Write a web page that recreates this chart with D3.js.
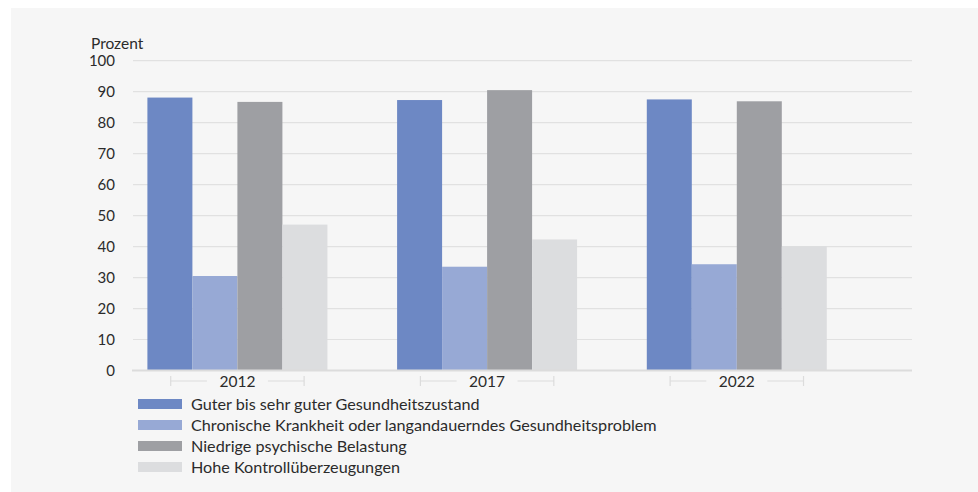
<!DOCTYPE html>
<html><head><meta charset="utf-8">
<script src="https://cdn.jsdelivr.net/npm/d3@7"></script>
<style>
html,body{margin:0;padding:0;background:#fff;}
svg{display:block;font-family:Lato,"Open Sans",sans-serif;}
</style></head>
<body>
<svg id="chart" width="978" height="492"></svg>
<script>
const years = ["2012", "2017", "2022"];
const seriesNames = [
  "Guter bis sehr guter Gesundheitszustand",
  "Chronische Krankheit oder langandauerndes Gesundheitsproblem",
  "Niedrige psychische Belastung",
  "Hohe Kontrollüberzeugungen"
];
const goodHealth = [88.1, 87.3, 87.5];
const chronic = [30.5, 33.5, 34.3];
const lowStress = [86.7, 90.5, 86.9];
const highControl = [47.1, 42.3, 40.1];
const seriesValues = [goodHealth, chronic, lowStress, highControl];
const colors = ["#6d88c4", "#97a9d5", "#9e9fa3", "#dcdddf"];
const yTicks = [0, 10, 20, 30, 40, 50, 60, 70, 80, 90, 100];
const yTitle = "Prozent";

(function () {
const svg = d3.select("#chart");
svg.append("rect").attr("x", 11).attr("y", 8).attr("width", 967).attr("height", 484).attr("fill", "#f6f6f6");

const pLeft = 133, pRight = 912, pTop = 60.7, pBottom = 370.5;
const bandStep = 249.7;
const y = d3.scaleLinear().domain([0, 100]).range([pBottom, pTop]);
const x = d3.scaleBand().domain(years).range([pLeft, pLeft + bandStep * years.length]).padding(0);
const groupStart = 14.4, groupWidth = 180;
const xs = d3.scaleBand().domain(d3.range(seriesNames.length)).range([groupStart, groupStart + groupWidth]).padding(0);

// gridlines
svg.append("g").selectAll("line").data(yTicks.filter(d => d > 0)).join("line")
  .attr("x1", pLeft).attr("x2", pRight)
  .attr("y1", d => y(d)).attr("y2", d => y(d))
  .attr("stroke", "#e1e1e1").attr("stroke-width", 1.2);

// y labels
svg.append("g").selectAll("text").data(yTicks).join("text")
  .attr("x", 115).attr("y", d => y(d)).attr("dy", "0.35em")
  .attr("text-anchor", "end").attr("font-size", 15).attr("fill", "#2b2b2b")
  .text(d => d);
svg.append("text").attr("x", 91).attr("y", 49).attr("font-size", 15.5).attr("fill", "#2b2b2b").text(yTitle);

// bars
const groups = svg.append("g").selectAll("g").data(years).join("g")
  .attr("transform", d => `translate(${x(d)},0)`);
groups.selectAll("rect").data((d, i) => seriesValues.map((s, k) => ({k, v: s[i]}))).join("rect")
  .attr("x", d => xs(d.k)).attr("width", xs.bandwidth())
  .attr("y", d => y(d.v)).attr("height", d => y(0) - y(d.v))
  .attr("fill", d => colors[d.k]);

// baseline
svg.append("line").attr("x1", pLeft - 1).attr("x2", pRight).attr("y1", pBottom).attr("y2", pBottom)
  .attr("stroke", "#dcdcdc").attr("stroke-width", 2);

// category labels with brackets
const cat = svg.append("g").selectAll("g").data(years).join("g")
  .attr("transform", d => `translate(${x(d) + groupStart + groupWidth / 2},381)`);
cat.append("text").attr("text-anchor", "middle").attr("dy", "0.36em").attr("font-size", 15.5)
  .attr("fill", "#2b2b2b").text(d => d);
const half = 66.7, inner = 30.5;
cat.append("path")
  .attr("d", `M${-half},0H${-inner}M${inner},0H${half}M${-half},-5V5M${half},-5V5`)
  .attr("stroke", "#dcdcdc").attr("stroke-width", 1.2).attr("fill", "none");

// legend
const lg = svg.append("g").selectAll("g").data(seriesNames).join("g")
  .attr("transform", (d, i) => `translate(138,${404 + i * 21})`);
lg.append("rect").attr("x", 0).attr("y", -5).attr("width", 44).attr("height", 10).attr("fill", (d, i) => colors[i]);
lg.append("text").attr("x", 53).attr("dy", "0.35em").attr("font-size", 16.2).attr("fill", "#2b2b2b").text(d => d);
})();
</script>
</body></html>
